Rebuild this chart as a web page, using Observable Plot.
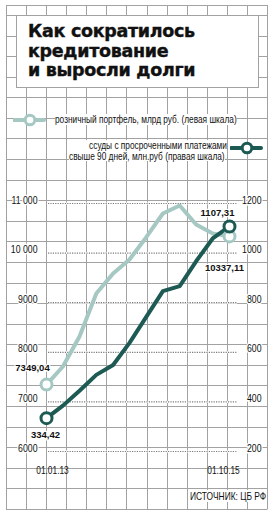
<!DOCTYPE html>
<html><head><meta charset="utf-8">
<script src="https://cdn.jsdelivr.net/npm/d3@7"></script>
<script src="https://cdn.jsdelivr.net/npm/@observablehq/plot@0.6"></script>
<style>
body{margin:0;background:#fff;}
#wrap{position:relative;width:276px;height:517px;overflow:hidden;font-family:"Liberation Sans","Arial",sans-serif;color:#111;}
#bg,#plot{position:absolute;left:0;top:0;}
#title{position:absolute;left:28px;top:22px;font-family:"DejaVu Sans",sans-serif;font-weight:bold;font-size:17.5px;line-height:19.5px;letter-spacing:-0.3px;color:#111;-webkit-text-stroke:0.4px #111;}
.leg{position:absolute;font-size:10.5px;line-height:10.5px;background:#fff;white-space:nowrap;}
#leg1{transform:scaleX(0.79);transform-origin:left center;}
#leg2{transform:scaleX(0.79);transform-origin:right center;text-align:right;}
#src{position:absolute;right:10px;top:490px;font-size:10.5px;line-height:12px;background:#fff;transform:scaleX(0.8);transform-origin:right center;white-space:nowrap;}
.sym{position:absolute;}
</style></head>
<body><div id="wrap">
<svg id="bg" width="276" height="517"></svg>
<div id="plot"></div>
<div id="title">Как сократилось<br>кредитование<br>и выросли долги</div>
<div class="leg" id="leg1" style="left:55px;top:114px;"></div>
<div class="leg" id="leg2" style="right:49px;top:140px;"></div>
<div id="src"></div>
</div>
<script>
// ---- data ----
const dates = ["2013-01-01","2013-04-01","2013-07-01","2013-10-01","2014-01-01","2014-04-01","2014-07-01","2014-10-01","2015-01-01","2015-04-01","2015-07-01","2015-10-01"];
const retail = [7349.04, 7714, 8319, 9185, 9589, 9871, 10315, 10798, 10960, 10577, 10395, 10337.11];
const overdue = [334.42, 385, 445, 509, 549, 638, 742, 847, 867, 967, 1059, 1107.31];
const leftTicks = [6000, 7000, 8000, 9000, 10000, 11000];
const rightTicks = [200, 400, 600, 800, 1000, 1200];
const dateLabels = ["01.01.13", "01.10.15"];
const valueLabels = ["7349,04", "334,42", "10337,11", "1107,31"];
const legendRetail = "розничный портфель, млрд руб. (левая шкала)";
const legendOverdue = ["ссуды с просроченными платежами", "свыше 90 дней, млн.руб (правая шкала)."];
const source = "ИСТОЧНИК: ЦБ РФ";

const light = "#a6c8c3", dark = "#1d5a53", gridC = "#a2a2a2";

// ---- background grid (decoration) ----
const bg = d3.select("#bg");
const gx0 = 6, gx1 = 267, gy0 = 5, gy1 = 509;
for (let k = 0; k <= 13; k++) {
  const x = Math.round(gx0 + k * 20.08) + 0.5;
  bg.append("line").attr("x1", x).attr("x2", x).attr("y1", gy0).attr("y2", gy1).attr("stroke", gridC);
}
bg.append("line").attr("x1", gx0).attr("x2", gx1 + 0.5).attr("y1", gy0 + 0.5).attr("y2", gy0 + 0.5).attr("stroke", gridC);
for (let k = 0; k <= 24; k++) {
  const y = Math.round(15 + k * 20.58) + 0.5;
  bg.append("line").attr("x1", gx0).attr("x2", gx1 + 0.5).attr("y1", y).attr("y2", y).attr("stroke", gridC);
}
bg.append("rect").attr("x", 16.5).attr("y", 15.5).attr("width", 242).attr("height", 72).attr("fill", "#fff").attr("stroke", gridC);

// ---- legend & source ----
document.getElementById("leg1").textContent = legendRetail;
document.getElementById("leg2").innerHTML = legendOverdue.join("<br>");
document.getElementById("src").textContent = source;
function sym(color, left, top) {
  const s = d3.select("#wrap").append("svg").attr("class", "sym").attr("width", 34).attr("height", 14)
    .style("left", left + "px").style("top", top + "px");
  s.append("line").attr("x1", 1).attr("x2", 31).attr("y1", 7).attr("y2", 7).attr("stroke", color).attr("stroke-width", 4).attr("stroke-linecap", "round");
  s.append("circle").attr("cx", 17).attr("cy", 7).attr("r", 4.8).attr("fill", "#fff").attr("stroke", color).attr("stroke-width", 3);
}
sym(light, 13, 113);
sym(dark, 230, 141);

// ---- chart ----
const parse = d3.utcParse("%Y-%m-%d");
const rows = dates.map((d, i) => ({date: parse(d), retail: retail[i], overdue: overdue[i]}));
const toLeft = v => 5000 + 5 * v; // right scale mapped onto left
const first = rows[0], last = rows[rows.length - 1];
const fmtLeft = d => d >= 10000 ? d3.format(",")(d).replace(",", " ") : String(d);
const valFont = {fontSize: 9.5, fontWeight: "bold", fontFamily: "'Liberation Sans',sans-serif", letterSpacing: 0.6, fill: "#111", stroke: "#fff", strokeWidth: 2.5};
const valueText = (d, y, label, dx, dy) => Plot.text([d], {x: "date", y, text: () => label, dx, dy, ...valFont});

const chart = Plot.plot({
  width: 276, height: 517,
  marginLeft: 46, marginRight: 47, marginTop: 203, marginBottom: 66,
  style: {background: "transparent", fontFamily: "'Liberation Sans',sans-serif", overflow: "visible"},
  x: {type: "utc", domain: [first.date, last.date], axis: null},
  y: {domain: [6000, 11000], axis: null},
  marks: [
    Plot.ruleY(leftTicks, {y: d => d, stroke: "#fff", strokeWidth: 2, insetLeft: 2, insetRight: -8}),
    Plot.ruleY(leftTicks, {y: d => d, stroke: "#7a7a7a", strokeWidth: 1.2, strokeDasharray: "1.2,1.2", insetLeft: 2, insetRight: -8}),
    Plot.text(leftTicks, {y: d => d, text: fmtLeft, frameAnchor: "left", dx: -9, textAnchor: "end", fontSize: 11.5, fill: "#111", stroke: "#fff", strokeWidth: 3}),
    Plot.text(rightTicks, {y: d => toLeft(d), text: d => String(d), frameAnchor: "right", dx: 32, textAnchor: "end", fontSize: 11.5, fill: "#111", stroke: "#fff", strokeWidth: 3}),
    Plot.text([dateLabels[0]], {x: () => first.date, text: d => d, frameAnchor: "bottom", lineAnchor: "middle", dy: 22, dx: 6, fontSize: 11, fill: "#111"}),
    Plot.text([dateLabels[1]], {x: () => last.date, text: d => d, frameAnchor: "bottom", lineAnchor: "middle", dy: 22, dx: -6, fontSize: 11, fill: "#111"}),
    Plot.line(rows, {x: "date", y: "retail", stroke: light, strokeWidth: 4, strokeLinejoin: "round"}),
    Plot.line(rows, {x: "date", y: d => toLeft(d.overdue), stroke: dark, strokeWidth: 4, strokeLinejoin: "round"}),
    Plot.dot([first, last], {x: "date", y: "retail", r: 5.5, fill: "#fff", stroke: light, strokeWidth: 3}),
    Plot.dot([first, last], {x: "date", y: d => toLeft(d.overdue), r: 5.5, fill: "#fff", stroke: dark, strokeWidth: 3}),
    valueText(first, "retail", valueLabels[0], -14, -17),
    valueText(first, d => toLeft(d.overdue), valueLabels[1], -1, 17),
    valueText(last, "retail", valueLabels[2], -5, 32),
    valueText(last, d => toLeft(d.overdue), valueLabels[3], -12, -14)
  ]
});
// condense the axis/date labels horizontally (the reference uses a narrow face)
const narrowSet = new Set([...leftTicks.map(fmtLeft), ...rightTicks.map(String), ...dateLabels]);
d3.select(chart).selectAll("text").each(function() {
  if (!narrowSet.has(this.textContent.trim())) return;
  const el = d3.select(this);
  const x = +el.attr("x") || 0, y = +el.attr("y") || 0, t = el.attr("transform") || "";
  el.attr("x", null).attr("y", null).attr("transform", `${t} translate(${x},${y}) scale(0.76,1)`);
});
document.getElementById("plot").appendChild(chart);
</script>
</body></html>
